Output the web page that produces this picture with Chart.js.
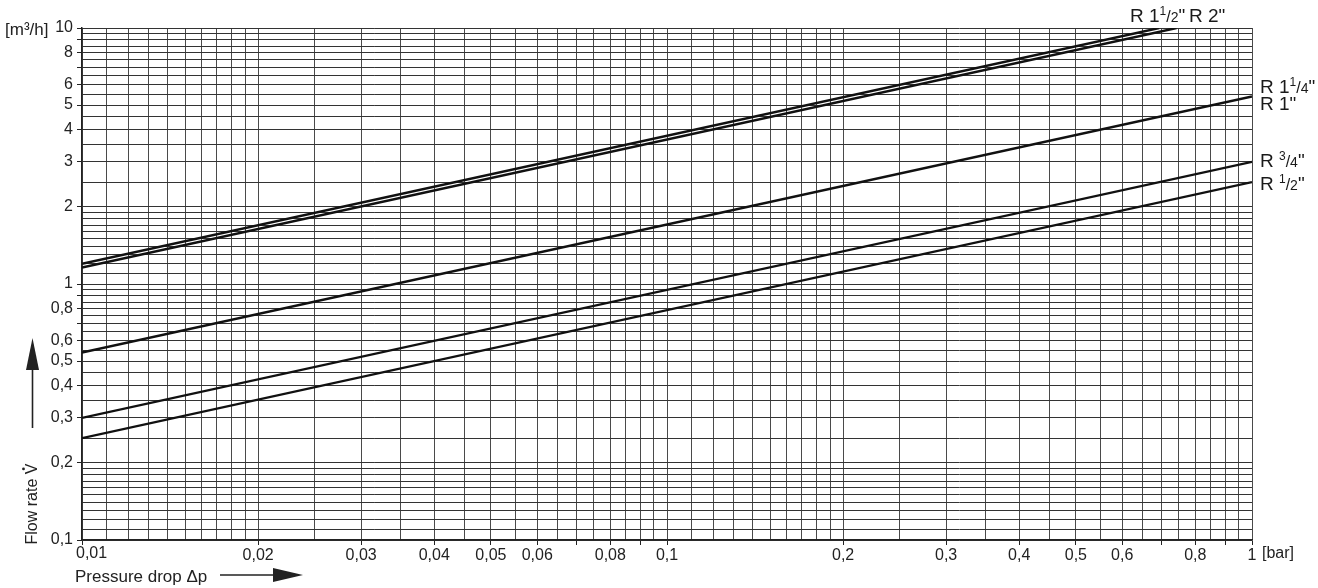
<!DOCTYPE html>
<html><head><meta charset="utf-8">
<script src="https://cdn.jsdelivr.net/npm/chart.js@4.4.1/dist/chart.umd.min.js"></script>
<style>html,body{margin:0;padding:0;background:#fff}canvas{display:block}</style>
</head><body>
<canvas id="c" width="1318" height="588"></canvas>
<script>
// ---- data ----
const seriesNames   = ['R 1/2"', 'R 3/4"', 'R 1"', 'R 1 1/2"', 'R 2"'];
const pressureStart = [0.01, 0.01, 0.01, 0.01, 0.01];
const pressureEnd   = [1, 1, 1, 0.743, 0.694];
const flowStart     = [0.25, 0.30, 0.54, 1.16, 1.20];
const flowEnd       = [2.5, 3.0, 5.4, 10, 10];

const xLabels = [0.01,0.02,0.03,0.04,0.05,0.06,0.08,0.1,0.2,0.3,0.4,0.5,0.6,0.8,1];
const yLabels = [0.1,0.2,0.3,0.4,0.5,0.6,0.8,1,2,3,4,5,6,8,10];
const xTickMarks = [0.01,0.02,0.03,0.04,0.05,0.06,0.07,0.08,0.09,0.1,0.2,0.3,0.4,0.5,0.6,0.7,0.8,0.9,1];
const yTickMarks = [0.1,0.2,0.3,0.4,0.5,0.6,0.7,0.8,0.9,1,2,3,4,5,6,7,8,9,10];
// grid line spacing per range: [from, to, step]
const xGridSteps = [[0.01,0.02,0.001],[0.02,0.1,0.005],[0.1,0.2,0.01],[0.2,1,0.05]];
const yGridSteps = [[0.1,0.2,0.01],[0.2,1,0.05],[1,2,0.1],[2,10,0.5]];

const FONT = '"Liberation Sans", Arial, sans-serif';

function buildGrid(steps){
  const out = [];
  steps.forEach(([a,b,s])=>{
    const n = Math.round((b-a)/s);
    for(let i=0;i<=n;i++){
      const v = Math.round((a+i*s)*1e6)/1e6;
      if(!out.some(o=>Math.abs(o/v-1)<1e-6)) out.push(v);
    }
  });
  return out;
}
const xGrid = buildGrid(xGridSteps);
const yGrid = buildGrid(yGridSteps);
const inList = (list,v)=>list.some(o=>Math.abs(o/v-1)<1e-6);
const fmt = v=>String(v).replace('.',',');

const datasets = seriesNames.map((name,i)=>({
  label: name,
  data: [{x:pressureStart[i], y:flowStart[i]},{x:pressureEnd[i], y:flowEnd[i]}],
  borderColor:'#111', borderWidth:2.4, pointRadius:0, tension:0, fill:false
}));

function drawParts(ctx, x, y, parts){
  ctx.textBaseline='alphabetic'; ctx.textAlign='left';
  parts.forEach(([t,size,dy])=>{
    ctx.font = size+'px '+FONT;
    ctx.fillText(t, x, y+dy);
    x += ctx.measureText(t).width;
  });
}

const decor = {
  id:'decor',
  afterDraw(chart){
    const ctx = chart.ctx;
    const xs = chart.scales.x;
    ctx.save();
    ctx.fillStyle='#222'; ctx.strokeStyle='#222';
    // first x tick label, shifted inside like the reference
    ctx.font='16px '+FONT; ctx.textBaseline='middle'; ctx.textAlign='left';
    ctx.fillText(fmt(xLabels[0]), xs.getPixelForValue(xLabels[0]) - 6, 553.5);
    ctx.fillText('[bar]', 1262, 553.5);
    // unit label
    ctx.font='17px '+FONT;
    ctx.fillText('[m³/h]', 5, 30);
    // x axis title + arrow
    ctx.fillText('Pressure drop Δp', 75, 577);
    ctx.lineWidth=1.6;
    ctx.beginPath(); ctx.moveTo(220,575); ctx.lineTo(276,575); ctx.stroke();
    ctx.beginPath(); ctx.moveTo(273,568); ctx.lineTo(303,575); ctx.lineTo(273,582); ctx.closePath(); ctx.fill();
    // y axis title + arrow
    ctx.font='16px '+FONT;
    ctx.save(); ctx.translate(33,504); ctx.rotate(-Math.PI/2);
    ctx.textAlign='center';
    const t = 'Flow rate V';
    ctx.fillText(t, 0, 0);
    const w = ctx.measureText(t).width, vw = ctx.measureText('V').width;
    ctx.beginPath(); ctx.arc(w/2 - vw/2, -9.5, 1.4, 0, Math.PI*2); ctx.fill();
    ctx.restore();
    ctx.beginPath(); ctx.moveTo(32.5,428); ctx.lineTo(32.5,366); ctx.stroke();
    ctx.beginPath(); ctx.moveTo(26,370); ctx.lineTo(32.5,338); ctx.lineTo(39,370); ctx.closePath(); ctx.fill();
    // series labels
    ctx.fillStyle='#1a1a1a';
    drawParts(ctx,1130,22,[['R 1',19,0],['1',12,-7],['/',16,0],['2',14,0],['"',19,0]]);
    drawParts(ctx,1189,22,[['R 2"',19,0]]);
    drawParts(ctx,1260,93,[['R 1',19,0],['1',12,-7],['/',16,0],['4',14,0],['"',19,0]]);
    drawParts(ctx,1260,110,[['R 1"',19,0]]);
    drawParts(ctx,1260,167,[['R ',19,0],['3',12,-7],['/',16,0],['4',14,0],['"',19,0]]);
    drawParts(ctx,1260,190,[['R ',19,0],['1',12,-7],['/',16,0],['2',14,0],['"',19,0]]);
    ctx.restore();
  }
};

new Chart(document.getElementById('c'), {
  type:'line',
  data:{datasets},
  options:{
    responsive:false, animation:false, devicePixelRatio:1,
    layout:{padding:{left:0,right:66,top:28,bottom:0}},
    plugins:{legend:{display:false}, tooltip:{enabled:false}},
    scales:{
      x:{
        type:'logarithmic', min:0.01, max:1,
        afterBuildTicks:s=>{ s.ticks = xGrid.map(v=>({value:v})); },
        afterFit:s=>{ s.height = 48; },
        ticks:{autoSkip:false, maxRotation:0, minRotation:0, padding:1, color:'#222',
          font:{family:FONT, size:16},
          callback:v=> (inList(xLabels,v) && Math.abs(v/xLabels[0]-1)>1e-6) ? fmt(v) : ''},
        grid:{color:'#4a4a4a', lineWidth:1, drawTicks:true, tickLength:5,
          tickColor:c=> (c.tick && inList(xTickMarks,c.tick.value)) ? '#222' : 'rgba(0,0,0,0)'},
        border:{color:'#222', width:1.5}
      },
      y:{
        type:'logarithmic', min:0.1, max:10,
        afterBuildTicks:s=>{ s.ticks = yGrid.map(v=>({value:v})); },
        afterFit:s=>{ s.width = 82; },
        ticks:{autoSkip:false, padding:4, color:'#222',
          font:{family:FONT, size:16},
          callback:v=> inList(yLabels,v) ? fmt(v) : ''},
        grid:{color:'#333', lineWidth:1, drawTicks:true, tickLength:5,
          tickColor:c=> (c.tick && inList(yTickMarks,c.tick.value)) ? '#222' : 'rgba(0,0,0,0)'},
        border:{color:'#222', width:1.5}
      }
    }
  },
  plugins:[decor]
});
</script>
</body></html>
